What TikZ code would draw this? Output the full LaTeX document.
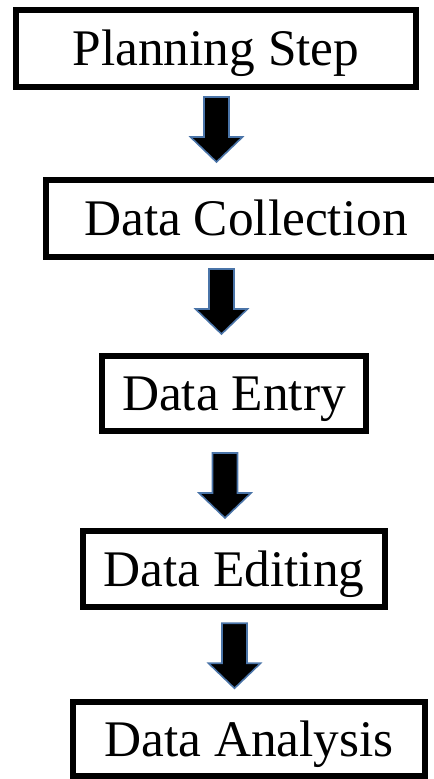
\documentclass[tikz,border=0pt]{standalone}
\usepackage{fontspec}
\setmainfont{Liberation Serif}
\usepackage{xcolor}
\usetikzlibrary{calc}

\definecolor{arrowline}{RGB}{74,116,168}

\begin{document}
\begin{tikzpicture}[x=0.75pt,y=0.75pt,yscale=-1,xscale=1,
  stepbox/.style={draw,line width=4.5pt,rectangle,inner sep=0pt,
    font=\fontsize{38.5pt}{42pt}\selectfont,text height=25.5pt,text depth=0pt},
  downarrow/.pic={
    \draw[fill=black,draw=arrowline,line width=1.2pt,line join=miter]
      (-12.5,0) -- (12.5,0) -- (12.5,-40) -- (26,-40) -- (0,-65) -- (-26,-40) -- (-12.5,-40) -- cycle ;}
]
\path[use as bounding box] (0,0) rectangle (433,779);

%Shape: Rectangle [Planning Step]
\node[stepbox,minimum width=300pt,minimum height=57.75pt] (plan) at (216,48.5) {Planning Step};
%Shape: Rectangle [Data Collection]
\node[stepbox,minimum width=300pt,minimum height=57.75pt] (collect) at (246,218.5) {Data Collection};
%Shape: Rectangle [Data Entry]
\node[stepbox,minimum width=198pt,minimum height=56.25pt] (entry) at (234,393.5) {Data Entry};
%Shape: Rectangle [Data Editing]
\node[stepbox,minimum width=226.5pt,minimum height=57.4pt] (edit) at (234,569) {Data Editing};
%Shape: Rectangle [Data Analysis]
\node[stepbox,minimum width=264pt,minimum height=55.1pt] (analysis) at (249,739) {Data Analysis};

%Block Arrows
\pic (a1) at ($(plan.south)+(0.5,7)$) {downarrow};
\pic (a2) at ($(collect.south)+(-24.5,9)$) {downarrow};
\pic (a3) at ($(entry.south)+(-9,19)$) {downarrow};
\pic (a4) at ($(edit.south)+(0.5,13)$) {downarrow};
\end{tikzpicture}
\end{document}
